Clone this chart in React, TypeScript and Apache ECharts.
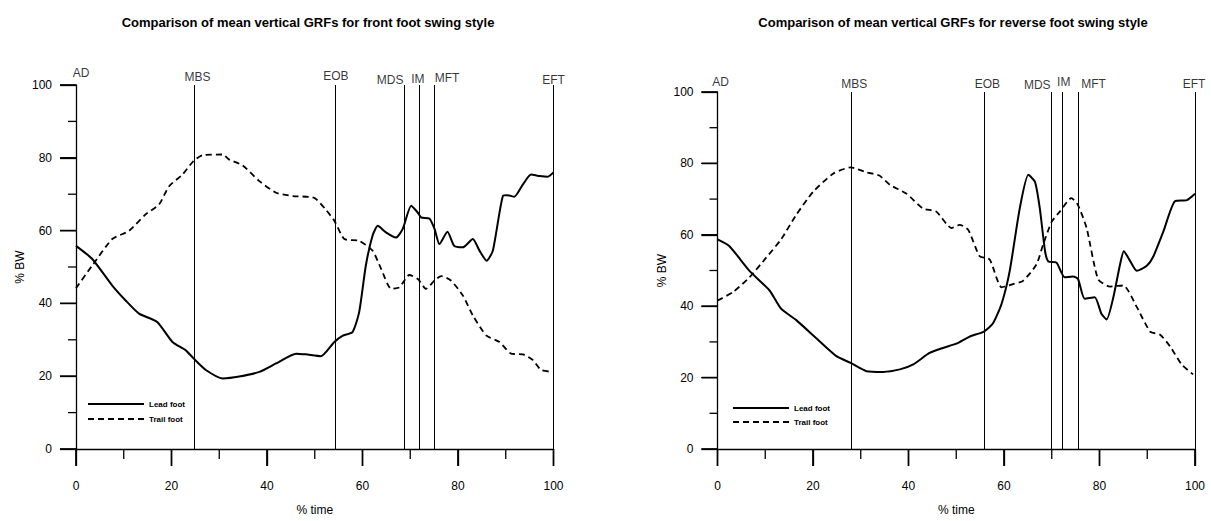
import React, { useEffect, useRef } from "react";
import * as echarts from "echarts";

// ---- Data ----
const eventNames = ["AD", "MBS", "EOB", "MDS", "IM", "MFT", "EFT"];
const frontEventTimes = [0, 24.8, 54.2, 68.7, 71.8, 75.0, 100];
const reverseEventTimes = [0, 28.0, 55.9, 69.9, 72.3, 75.6, 100];

const leadFront: [number, number][] = [
  [0, 55.8], [3.4, 52.2], [7.6, 44.9], [10.4, 40.8], [13.2, 37.2], [17, 34.9], [20.2, 29.4],
  [23, 27.1], [24.6, 24.9], [27.2, 21.7], [30.7, 19.4], [34.2, 19.9], [38.4, 21.2], [41.9, 23.5],
  [46.1, 26.2], [48.1, 26], [51.3, 25.5], [54.1, 29.4], [55.8, 31.1], [57.9, 32.1], [59.3, 37.6],
  [60.7, 50.4], [62.1, 58.6], [63.2, 61.3], [64.9, 59.5], [67, 58.1], [68.4, 60.4], [70.2, 66.8],
  [71.6, 64.9], [72.3, 63.6], [74, 63.3], [75.1, 60.4], [76.1, 56.3], [77.8, 59.7], [79.2, 55.8],
  [81, 55.4], [83.1, 57.7], [84.5, 54.5], [86, 51.7], [87.3, 54.5], [89.4, 69.5], [90.4, 69.7],
  [91.8, 69.3], [93.6, 72.7], [95.3, 75.4], [97.1, 75], [98.8, 74.8], [100, 76],
];

const trailFront: [number, number][] = [
  [0, 44.2], [3.4, 50.4], [7.6, 57.7], [11.1, 59.9], [14.6, 64.5], [17.4, 67.2], [19.5, 72.2],
  [22.3, 75.4], [24.6, 79.1], [26.5, 80.7], [30.7, 80.9], [32.1, 79.5], [34.9, 77.9], [38.4, 73.6],
  [41.9, 70.4], [45.4, 69.5], [49.9, 69], [52.3, 65.8], [54.1, 62.7], [56.2, 57.7], [59.3, 57.2],
  [62.1, 54.5], [63.9, 49.5], [66, 44], [67.7, 44.4], [69.8, 47.8], [71.6, 46.7], [73.3, 44],
  [75.1, 46.3], [76.5, 47.5], [78.5, 46.3], [81, 42.2], [83.1, 36.7], [85.9, 31.2], [88.7, 29.4],
  [91.1, 26.2], [93.6, 26], [95.7, 24.4], [97.4, 21.7], [99.7, 21.2],
];

const leadReverse: [number, number][] = [
  [0, 58.7], [2.5, 56.8], [6.7, 49.9], [10.9, 44.4], [13.3, 39.3], [16.5, 36.1], [20.7, 31],
  [24.9, 26], [27.9, 24.1], [31.2, 21.8], [34.7, 21.6], [38.2, 22.3], [41, 23.7], [44.4, 26.9],
  [47.2, 28.3], [50, 29.5], [52.8, 31.5], [55.8, 32.9], [57.7, 35.2], [59.5, 40.7], [61.2, 49.9],
  [63.3, 67.4], [65.1, 76.8], [66.5, 74.8], [67.5, 67.4], [68.6, 55.4], [69.3, 52.5], [71, 52.2],
  [72.7, 48.1], [74.5, 48.3], [75.5, 47.6], [76.9, 42.1], [79, 42.5], [80.4, 37.9], [81.5, 36.3],
  [82.9, 42.5], [84.3, 51.7], [85.1, 55.4], [86.4, 52.7], [87.8, 49.9], [89.9, 51.3], [91.3, 54],
  [93.4, 61], [95.8, 69.4], [98.3, 69.7], [100, 71.5],
];

const trailReverse: [number, number][] = [
  [0, 41.6], [3.2, 43.9], [6.7, 48.1], [10.2, 53.6], [13.3, 58.7], [16.5, 65.6], [20, 72],
  [24.2, 77.1], [27.9, 78.9], [31.2, 77.5], [33.9, 76.6], [36.1, 74], [39.6, 71.5], [43, 67.4],
  [45.8, 66.5], [49, 61.9], [50.7, 62.8], [52.5, 61.4], [54.9, 54], [57, 53.1], [59.5, 45.3],
  [61.9, 46.2], [64, 47.1], [66.8, 51.7], [68.2, 57.3], [70, 63.7], [71.7, 66.5], [74.1, 70.3],
  [75.5, 68.3], [77.3, 61.9], [79.7, 47.6], [82.2, 45.5], [85, 45.8], [87.8, 39.8], [90.6, 32.9],
  [92.7, 32], [94.8, 28.7], [97.2, 23.7], [99.6, 20.9],
];

// tick values: long ticks every 20 (labelled), short ticks every 10
const majorTickValues = [0, 20, 40, 60, 80, 100];
const minorTickValues = [10, 30, 50, 70, 90];

const titles = [
  "Comparison of mean vertical GRFs for front foot swing style",
  "Comparison of mean vertical GRFs for reverse foot swing style",
];
const seriesNames = ["Lead foot", "Trail foot"];

// label offsets (style) for event labels
const frontLabelOffsets = [[5, -12], [3, -8], [1, -9], [-14, -5], [-1, -6], [13, -7], [0, -5]];
const reverseLabelOffsets = [[3, -10], [3, -8], [3, -8], [-14, -7], [1, -10], [15, -8], [-1, -8]];

const FONT = '"Liberation Sans", Arial, Helvetica, sans-serif';

function xAxisFor(gridIndex: number) {
  return {
    type: "value",
    gridIndex,
    min: 0,
    max: 100,
    interval: 20,
    axisLine: { show: true, onZero: false, lineStyle: { color: "#000", width: 1.3 } },
    axisTick: { show: true, length: 17, lineStyle: { color: "#000", width: 1.3 } },
    splitLine: { show: false },
    axisLabel: { margin: 31, color: "#000", fontSize: 12, fontFamily: FONT },
    name: "% time",
    nameLocation: "middle",
    nameGap: 55,
    nameTextStyle: { color: "#000", fontSize: 12, fontFamily: FONT },
  };
}

function yAxisFor(gridIndex: number) {
  return {
    type: "value",
    gridIndex,
    min: 0,
    max: 100,
    interval: 20,
    axisLine: { show: true, onZero: false, lineStyle: { color: "#000", width: 1.3 } },
    axisTick: { show: true, length: 16, lineStyle: { color: "#000", width: 1.3 } },
    splitLine: { show: false },
    axisLabel: { margin: 24, color: "#000", fontSize: 12, fontFamily: FONT },
    name: "% BW",
    nameLocation: "middle",
    nameGap: 50,
    nameTextStyle: { color: "#000", fontSize: 12, fontFamily: FONT },
  };
}

// ticks drawn through the axes' own scale (api.coord), as thin filled rects
function tickSeries(idx: number, dir: "x" | "y", values: number[], len: number) {
  return {
    type: "custom",
    xAxisIndex: idx,
    yAxisIndex: idx,
    silent: true,
    clip: false,
    z: 10,
    data: values.map((v) => (dir === "x" ? [v, 0] : [0, v])),
    encode: { x: 0, y: 1 },
    renderItem: (params: any, api: any) => {
      const p = api.coord([api.value(0), api.value(1)]);
      const shape =
        dir === "x"
          ? { x: p[0] - 0.65, y: p[1], width: 1.3, height: len }
          : { x: p[0] - len, y: p[1] - 0.65, width: len, height: 1.3 };
      return { type: "rect", shape, style: { fill: "#000" } };
    },
  };
}

function seriesFor(
  idx: number,
  lead: [number, number][],
  trail: [number, number][],
  events: number[],
  offsets: number[][]
) {
  return [
    {
      name: seriesNames[0],
      type: "line",
      xAxisIndex: idx,
      yAxisIndex: idx,
      data: lead,
      symbol: "none",
      showSymbol: false,
      smooth: 0.2,
      lineStyle: { color: "#000", width: 2, type: "solid" },
      itemStyle: { color: "#000" },
      z: 3,
    },
    {
      name: seriesNames[1],
      type: "line",
      xAxisIndex: idx,
      yAxisIndex: idx,
      data: trail,
      symbol: "none",
      showSymbol: false,
      smooth: 0.2,
      lineStyle: { color: "#000", width: 1.8, type: [6, 4] },
      itemStyle: { color: "#000" },
      z: 3,
    },
    {
      name: "events" + idx,
      type: "scatter",
      xAxisIndex: idx,
      yAxisIndex: idx,
      clip: false,
      symbolSize: 1,
      itemStyle: { color: "rgba(0,0,0,0)" },
      data: events.map((t, k) => ({
        value: [t, 100],
        label: { offset: offsets[k] },
      })),
      label: {
        show: true,
        position: "inside",
        formatter: (p: any) => eventNames[p.dataIndex],
        color: "#000",
        fontSize: 12,
        fontFamily: FONT,
      },
      silent: true,
      markLine: {
        silent: true,
        symbol: ["none", "none"],
        label: { show: false },
        lineStyle: { color: "#000", width: 1, type: "solid" },
        data: events.map((t) => [{ coord: [t, 0] }, { coord: [t, 100] }]),
      },
      z: 2,
    },
    tickSeries(idx, "x", majorTickValues, 17),
    tickSeries(idx, "x", minorTickValues, 10),
    tickSeries(idx, "y", majorTickValues, 16),
    tickSeries(idx, "y", minorTickValues, 8),
  ];
}

export default function App() {
  const ref = useRef<HTMLDivElement>(null);

  useEffect(() => {
    if (!ref.current) return;
    const chart = echarts.init(ref.current, undefined, { renderer: "svg" });
    const legendBase = {
      orient: "vertical",
      itemWidth: 56,
      itemHeight: 10,
      itemGap: 7,
      padding: 0,
      selectedMode: false,
      data: seriesNames,
      itemStyle: { opacity: 0 },
      textStyle: { color: "#000", fontSize: 8, fontWeight: "bold", fontFamily: FONT },
    };
    const titleGraphics = [
      {
        type: "text",
        x: 308,
        y: 22,
        style: {
          text: titles[0],
          textAlign: "center",
          textVerticalAlign: "middle",
          fill: "#000",
          font: `bold 13px ${FONT}`,
        },
      },
      {
        type: "text",
        x: 953,
        y: 22,
        style: {
          text: titles[1],
          textAlign: "center",
          textVerticalAlign: "middle",
          fill: "#000",
          font: `bold 13px ${FONT}`,
        },
      },
    ];
    chart.setOption({
      animation: false,
      graphic: titleGraphics,
      legend: [
        { ...legendBase, left: 87, top: 400 },
        { ...legendBase, left: 732, top: 404, itemGap: 6 },
      ],
      grid: [
        { left: 76, top: 85, width: 477.5, height: 366 },
        { left: 717.5, top: 92, width: 477.5, height: 362 },
      ],
      xAxis: [xAxisFor(0), xAxisFor(1)],
      yAxis: [yAxisFor(0), yAxisFor(1)],
      series: [
        ...seriesFor(0, leadFront, trailFront, frontEventTimes, frontLabelOffsets),
        ...seriesFor(1, leadReverse, trailReverse, reverseEventTimes, reverseLabelOffsets),
      ],
    });

    // long ticks again as graphic lines, positioned through the grids' scales
    const tickGraphics: any[] = [];
    [0, 1].forEach((g) => {
      majorTickValues.forEach((v) => {
        const px = chart.convertToPixel({ gridIndex: g }, [v, 0]) as number[];
        const py = chart.convertToPixel({ gridIndex: g }, [0, v]) as number[];
        if (px) {
          tickGraphics.push({
            type: "line",
            z: 100,
            silent: true,
            shape: { x1: px[0], y1: px[1], x2: px[0], y2: px[1] + 17 },
            style: { stroke: "#000", lineWidth: 1.3 },
          });
        }
        if (py) {
          tickGraphics.push({
            type: "line",
            z: 100,
            silent: true,
            shape: { x1: py[0], y1: py[1], x2: py[0] - 16, y2: py[1] },
            style: { stroke: "#000", lineWidth: 1.3 },
          });
        }
      });
    });
    chart.setOption({ graphic: [...titleGraphics, ...tickGraphics] });

    return () => chart.dispose();
  }, []);

  return (
    <div
      ref={ref}
      style={{ position: "fixed", left: 0, top: 0, width: 1211, height: 521, background: "#fff" }}
    />
  );
}
